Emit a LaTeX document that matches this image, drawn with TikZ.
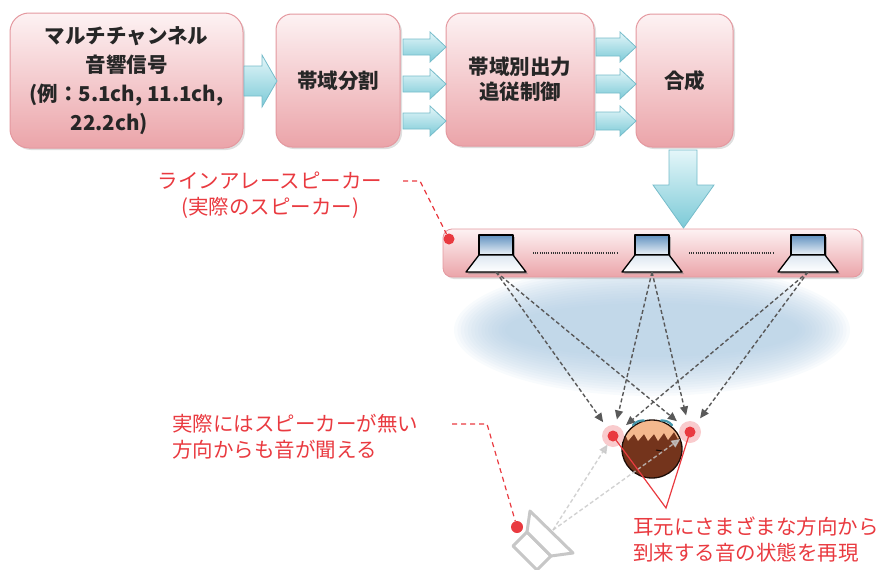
\documentclass[tikz,border=0pt]{standalone}
\usepackage{fontspec}
\newfontfamily\jp{Noto Sans CJK JP}
\usetikzlibrary{shadows,arrows.meta,calc}

\definecolor{boxtop}{RGB}{253,242,243}
\definecolor{boxbot}{RGB}{235,164,169}
\definecolor{boxline}{RGB}{228,152,159}
\definecolor{cyantop}{RGB}{228,246,249}
\definecolor{cyanbot}{RGB}{124,202,215}
\definecolor{cyanline}{RGB}{118,188,202}
\definecolor{hint}{RGB}{233,58,64}
\definecolor{haze}{RGB}{172,201,225}
\definecolor{spkblue}{RGB}{98,146,192}
\definecolor{hair}{RGB}{116,52,28}
\definecolor{skin}{RGB}{244,184,142}
\definecolor{hairclip}{RGB}{70,150,170}

\tikzset{
  procbox/.style={draw=boxline, line width=1pt, top color=boxtop, bottom color=boxbot,
    rounded corners=16pt, drop shadow={shadow xshift=2pt, shadow yshift=-2pt, opacity=0.25},
    font=\jp\bfseries\fontsize{20.5}{27}\selectfont, align=center, text=black!85, inner sep=0pt},
  bandarrow/.style={draw=cyanline, line width=0.8pt, top color=cyantop, bottom color=cyanbot, line join=miter},
  note/.style={font=\jp\fontsize{20.5}{26}\selectfont, text=hint, align=left, inner sep=0pt},
  leader/.style={draw=hint, line width=1.2pt, dash pattern=on 5pt off 4pt},
  ray/.style={draw=black!65, line width=1.4pt, dash pattern=on 4pt off 2.5pt,
    -{Triangle[length=9pt,width=8pt]}, shorten >=17pt},
  ghostray/.style={draw=black!22, line width=1.4pt, dash pattern=on 4pt off 2.5pt,
    -{Triangle[length=9pt,width=8pt]}, opacity=0.8},
  reddot/.style={circle, fill=hint, inner sep=0pt, minimum size=11pt},
  spkline/.style={draw=black, line width=1.3pt, line join=round,
    drop shadow={shadow xshift=2pt, shadow yshift=-2pt, opacity=0.55}},
  speaker/.pic={
    \path[spkline, top color=spkblue, bottom color=white!88!spkblue] (-17,-20) rectangle (17,0);
    \path[spkline, top color=white!78!spkblue, bottom color=white] (-17,0) -- (17,0) -- (30,17) -- (-30,17) -- cycle;
    \coordinate (-out) at (0,17);
    \coordinate (-l) at (-17,-2);
    \coordinate (-r) at (17,-2);
  },
}

% horizontal band arrow: x from, x to, y, shaft half width, head half width, head length
\newcommand\hbandarrow[6]{%
  \path[bandarrow] (#1,{#3-#4}) -- ({#2-#6},{#3-#4}) -- ({#2-#6},{#3-#5}) -- (#2,#3)
    -- ({#2-#6},{#3+#5}) -- ({#2-#6},{#3+#4}) -- (#1,{#3+#4}) -- cycle;}

\begin{document}
\begin{tikzpicture}[x=1pt,y=-1pt]
\useasboundingbox (0,0) rectangle (881,570);
\clip (0,0) rectangle (881,570);

% ---------- signal chain ----------
\node[procbox, minimum width=233pt, minimum height=135pt, rounded corners=19pt,
      font=\jp\bfseries\fontsize{20.5}{29}\selectfont] (src) at (126.5,80.5)
  {マルチチャンネル\\音響信号\\(例：5.1ch, 11.1ch,\\22.2ch)\hspace*{34pt}};
\node[procbox, minimum width=124pt, minimum height=133pt] (split) at (338,80.5) {帯域分割};
\node[procbox, minimum width=148pt, minimum height=133pt,
      font=\jp\bfseries\fontsize{20.5}{25}\selectfont] (track) at (520,79.5) {帯域別出力\\追従制御};
\node[procbox, minimum width=97pt, minimum height=133pt] (mix) at (684.5,80.5) {合成};

\hbandarrow{244}{277}{81}{15}{26}{15}
\foreach \yy in {47,84,121} {\hbandarrow{403}{446}{\yy}{8}{15}{16}}
\foreach \yy in {47,84,121} {\hbandarrow{596}{636}{\yy}{9}{15}{16}}

\path[bandarrow] (669,150) -- (697,150) -- (697,185) -- (714,185) -- (683.5,228)
  -- (653,185) -- (669,185) -- cycle;

% ---------- sound field haze ----------
\foreach \k in {0,...,15}
  \fill[haze, opacity=0.08] (652,330) ellipse ({198-3.4*\k} and {66-2.6*\k});

% ---------- line array ----------
\node[draw=boxline, line width=0.8pt, top color=boxtop, bottom color=boxbot,
      rounded corners=9pt, minimum width=419pt, minimum height=48pt, inner sep=0pt,
      drop shadow={shadow xshift=2pt, shadow yshift=-2pt, opacity=0.25}] (bar) at (652.5,253) {};

\pic (sL) at (496,255) {speaker};
\pic (sM) at (652,255) {speaker};
\pic (sR) at (808,255) {speaker};

\draw[black!80, line width=1.1pt, dash pattern=on 1pt off 1.2pt] ($(sL-r)+(20,0)$) -- ($(sM-l)+(-18,0)$);
\draw[black!80, line width=1.1pt, dash pattern=on 1pt off 1.2pt] ($(sM-r)+(20,0)$) -- ($(sR-l)+(-18,0)$);

% ---------- listener ----------
\coordinate (earL) at (613,436);
\coordinate (earR) at (690,432);

\foreach \s in {sL,sM,sR} {
  \draw[ray] (\s-out) -- (earL);
  \draw[ray] (\s-out) -- (earR);
}

\begin{scope}[shift={(652,449)}]
  \fill[hair] (0,0) ellipse (30 and 29);
  \begin{scope}
    \clip (0,0) ellipse (30 and 29);
    \fill[skin] (-32,-31) -- (32,-31) -- (32,-17) -- (26,-10) -- (22,-17) -- (16,-9)
      -- (12,-16) -- (6,-8) -- (2,-15) -- (-4,-8) -- (-8,-15) -- (-14,-8) -- (-18,-15)
      -- (-24,-8) -- (-27,-15) -- (-32,-12) -- cycle;
  \end{scope}
  \draw[black!75!hair, line width=1.3pt] (0,0) ellipse (30 and 29);
  \draw[hairclip, line width=2.2pt, line cap=round] (-19,-24) to[bend left=25] (-8,-28.5);
  \draw[hairclip, line width=2.2pt, line cap=round] (9,-28.5) to[bend left=25] (20,-24);
  \draw[black!80!hair, line width=1pt] (4,1) -- (10,2);
\end{scope}

\fill[hint!35, opacity=0.75] (earL) circle (11);
\fill[hint!35, opacity=0.75] (earR) circle (11);

% ---------- virtual source ----------
\coordinate (vsMouth) at (553,530);
\draw[black!22, line width=3pt, line join=round, fill=white]
  (527,532) -- (551,556) -- (537,570) -- (513,546) -- cycle;
\draw[black!22, line width=3pt, line join=round, fill=white]
  (530,511) -- (573,553) -- (551,556) -- (527,532) -- cycle;
\draw[ghostray, shorten >=10pt] (vsMouth) -- (earL);
\draw[ghostray, shorten >=12pt] (vsMouth) -- (earR);

\node[reddot] (dotL) at (earL) {};
\node[reddot] (dotR) at (earR) {};

% ---------- annotations ----------
\node[note, align=center] (arrayNote) at (270,195)
  {ラインアレースピーカー\\(実際のスピーカー)};
\node[reddot] (barDot) at (449,239) {};
\coordinate (k1) at (403,181);
\coordinate (k2) at (420,181);
\draw[leader] (k1) -- (k2) -- (barDot);

\node[note, anchor=west] (virtNote) at (172,437)
  {実際にはスピーカーが無い\\方向からも音が聞える};
\node[reddot, minimum size=12pt] (vsDot) at (517,527) {};
\coordinate (k3) at (452,424);
\coordinate (k4) at (487,424);
\draw[leader] (k3) -- (k4) -- (vsDot);

\node[note, anchor=west] (earNote) at (633,540)
  {耳元にさまざまな方向から\\到来する音の状態を再現};
\coordinate (earTip) at (666,508);
\draw[hint, line width=1.2pt] (dotL.center) -- (earTip) -- (dotR.center);
\end{tikzpicture}
\end{document}
